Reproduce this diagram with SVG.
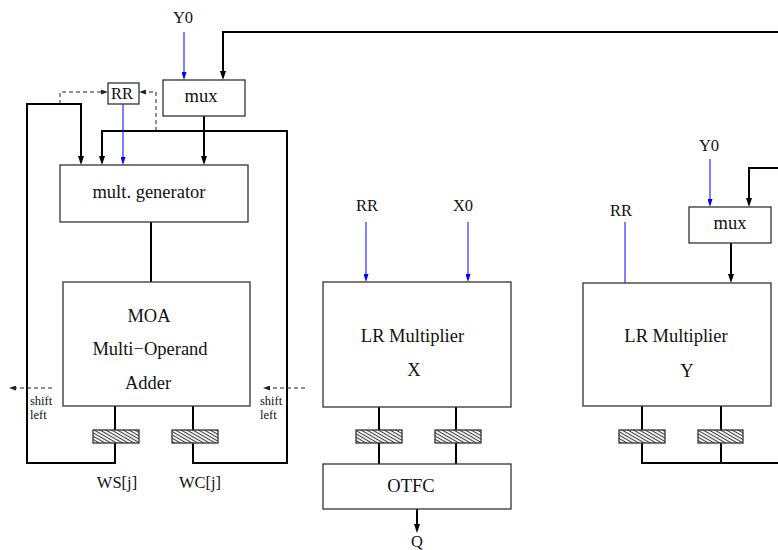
<svg xmlns="http://www.w3.org/2000/svg" width="778" height="550" viewBox="0 0 778 550">
<style>
.box{fill:#fff;stroke:#333;stroke-width:1.3}
.reg{fill:url(#hatch);stroke:#333;stroke-width:1.3}
.thick{fill:none;stroke:#000;stroke-width:2}
.blue{fill:none;stroke:#00f;stroke-width:1}
.dash{fill:none;stroke:#222;stroke-width:1;stroke-dasharray:4 3}
.t{font-family:"Liberation Serif","Times New Roman",serif;font-size:18.5px;fill:#111;text-anchor:middle}
.l{font-family:"Liberation Serif","Times New Roman",serif;font-size:16.5px;fill:#111;text-anchor:middle}
.s{font-family:"Liberation Serif","Times New Roman",serif;font-size:12.5px;fill:#111}
</style>
<defs>
<pattern id="hatch" patternUnits="userSpaceOnUse" width="10" height="2.9" patternTransform="rotate(30)">
<rect width="10" height="2.9" fill="#fff"/>
<line x1="0" y1="0.6" x2="10" y2="0.6" stroke="#111" stroke-width="0.9"/>
</pattern>
<marker id="arr" viewBox="0 0 9 6" refX="6" refY="3" markerWidth="9" markerHeight="6" orient="auto" markerUnits="userSpaceOnUse"><path d="M0,0 L9,3 L0,6 z" fill="#000"/></marker>
<marker id="arrb" viewBox="0 0 8 5" refX="5" refY="2.5" markerWidth="8" markerHeight="5" orient="auto" markerUnits="userSpaceOnUse"><path d="M0,0 L8,2.5 L0,5 z" fill="#00f"/></marker>
<marker id="arrd" viewBox="0 0 7 5" refX="4" refY="2.5" markerWidth="7" markerHeight="5" orient="auto" markerUnits="userSpaceOnUse"><path d="M0,0 L7,2.5 L0,5 z" fill="#222"/></marker>
</defs>
<rect width="778" height="550" fill="#fff"/>
<g id="connectors">
<path class="thick" d="M778,32 H223 V77" marker-end="url(#arr)"/>
<path class="thick" d="M115,406 V463 H27 V104 H81 V162" marker-end="url(#arr)"/>
<path class="thick" d="M193,406 V463 H287 V131 H102 V162" marker-end="url(#arr)"/>
<path class="thick" d="M204,116 V162" marker-end="url(#arr)"/>
<path class="thick" d="M151,222 V282"/>
<path class="thick" d="M379,407 V464 M456,407 V464"/>
<path class="thick" d="M417,509 V530" marker-end="url(#arr)"/>
<path class="thick" d="M778,168 H749 V204" marker-end="url(#arr)"/>
<path class="thick" d="M731,243 V280" marker-end="url(#arr)"/>
<path class="thick" d="M642,406 V463 H778 M721,406 V463"/>
<path class="blue" d="M184,32 V77" marker-end="url(#arrb)"/>
<path class="blue" d="M123,104 V162" marker-end="url(#arrb)"/>
<path class="blue" d="M366,222 V279" marker-end="url(#arrb)"/>
<path class="blue" d="M468,222 V279" marker-end="url(#arrb)"/>
<path class="blue" d="M710,159 V204" marker-end="url(#arrb)"/>
<path class="blue" d="M625,222 V283"/>
<path class="dash" d="M60,104 V92 H105" marker-end="url(#arrd)"/>
<path class="dash" d="M156,131 V92 H142" marker-end="url(#arrd)"/>
<path class="dash" d="M52,388 H12" marker-end="url(#arrd)"/>
<path class="dash" d="M305,388 H266" marker-end="url(#arrd)"/>
</g>
<g id="mux1"><rect class="box" x="163" y="80" width="82" height="36"/><text class="t" x="201" y="102">mux</text></g>
<g id="rr1"><rect class="box" x="108" y="83" width="31" height="21"/><text class="l" x="122" y="99">RR</text></g>
<g id="multgen"><rect class="box" x="60" y="165" width="188" height="57"/><text class="t" x="149" y="198">mult. generator</text></g>
<g id="moa"><rect class="box" x="63" y="282" width="187" height="124"/>
<text class="t" x="149" y="322">MOA</text>
<text class="t" x="150" y="355">Multi−Operand</text>
<text class="t" x="148" y="389">Adder</text></g>
<g id="reg1"><rect class="reg" x="93" y="430" width="46" height="13"/></g>
<g id="reg2"><rect class="reg" x="172" y="430" width="46" height="13"/></g>
<g id="lrx"><rect class="box" x="323" y="282" width="188" height="125"/>
<text class="t" x="412.5" y="342">LR Multiplier</text>
<text class="t" x="414" y="376">X</text></g>
<g id="regx1"><rect class="reg" x="356" y="430" width="46" height="13"/></g>
<g id="regx2"><rect class="reg" x="435" y="430" width="46" height="13"/></g>
<g id="otfc"><rect class="box" x="323" y="464" width="188" height="45"/><text class="t" x="411" y="491.5">OTFC</text></g>
<g id="mux2"><rect class="box" x="689" y="207" width="82" height="36"/><text class="t" x="730" y="228.5">mux</text></g>
<g id="lry"><rect class="box" x="583" y="283" width="188" height="123"/>
<text class="t" x="676" y="342">LR Multiplier</text>
<text class="t" x="687" y="376.5">Y</text></g>
<g id="regy1"><rect class="reg" x="619" y="430" width="46" height="13"/></g>
<g id="regy2"><rect class="reg" x="698" y="430" width="45" height="13"/></g>
<g id="labels">
<text class="l" x="183" y="23">Y0</text>
<text class="s" x="30" y="405">shift</text>
<text class="s" x="30" y="419">left</text>
<text class="s" x="260" y="405">shift</text>
<text class="s" x="260" y="419">left</text>
<text class="l" x="117" y="488">WS[j]</text>
<text class="l" x="200" y="488">WC[j]</text>
<text class="l" x="367" y="210.5">RR</text>
<text class="l" x="463" y="210.5">X0</text>
<text class="l" x="417" y="547">Q</text>
<text class="l" x="709" y="150.5">Y0</text>
<text class="l" x="621" y="216">RR</text>
</g>
</svg>
